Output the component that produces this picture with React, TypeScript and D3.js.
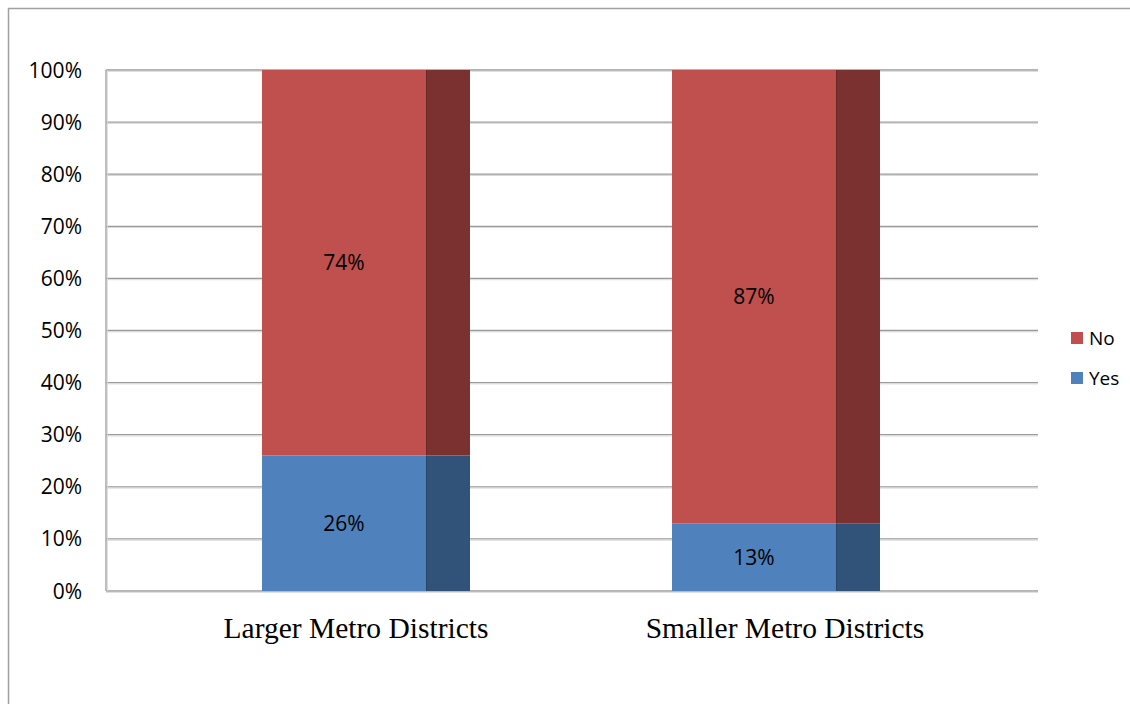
import React from "react";
import * as d3 from "d3";

const categories = ["Larger Metro Districts", "Smaller Metro Districts"];
const yesValues = [0.26, 0.13];
const noValues = [0.74, 0.87];
const yTicks = [0, 0.1, 0.2, 0.3, 0.4, 0.5, 0.6, 0.7, 0.8, 0.9, 1.0];
const seriesNames = ["No", "Yes"];

const W = 1130;
const H = 704;
const plotLeft = 106;
const plotRight = 1038;
const plotTop = 70;
const plotBottom = 591;

const colors = {
  No: { front: "#C0504D", side: "#7A3130" },
  Yes: { front: "#4F81BD", side: "#325379" },
};

export default function App() {
  const y = d3.scaleLinear().domain([0, 1]).range([plotBottom, plotTop]);
  const xBar = d3.scaleBand<string>().domain(categories).range([262, 1082]).padding(0);
  const xLabel = d3.scalePoint<string>().domain(categories).range([356, 785]);
  const frontW = 164;
  const sideW = 44;
  const fmt = d3.format(".0%");
  const sans = "'Open Sans', 'Noto Sans', sans-serif";

  const stacks = categories.map((c, i) => [
    { name: "Yes", y0: 0, y1: yesValues[i] },
    { name: "No", y0: yesValues[i], y1: yesValues[i] + noValues[i] },
  ]);

  return (
    <svg width={W} height={H} style={{ position: "absolute", left: 0, top: 0, background: "#fff" }}>
      <rect x={8.5} y={8.5} width={W + 10} height={H + 10} fill="#fff" stroke="#a0a0a0" strokeWidth={1.5} />
      {yTicks.map((t) => (
        <g key={t}>
          <line x1={plotLeft} x2={plotRight} y1={y(t)} y2={y(t)} stroke="#9a9a9a" strokeWidth={1.3} />
          <line x1={plotLeft} x2={plotRight} y1={y(t) + 1.3} y2={y(t) + 1.3} stroke="#d8d8d8" strokeWidth={1} />
          <text x={82} y={y(t)} dy="0.36em" textAnchor="end" fontFamily={sans} fontSize={21} fill="#000">
            {fmt(t)}
          </text>
        </g>
      ))}
      <line x1={plotLeft} x2={plotLeft} y1={plotTop} y2={plotBottom} stroke="#9a9a9a" strokeWidth={1.3} />
      <line x1={plotLeft + 1.3} x2={plotLeft + 1.3} y1={plotTop} y2={plotBottom} stroke="#d8d8d8" strokeWidth={1} />
      {categories.map((c, i) => {
        const x0 = xBar(c) as number;
        return (
          <g key={c}>
            {stacks[i].map((s) => {
              const col = colors[s.name as "No" | "Yes"];
              const top = y(s.y1);
              const h = y(s.y0) - y(s.y1);
              return (
                <g key={s.name}>
                  <rect x={x0} y={top} width={frontW} height={h} fill={col.front} />
                  <rect x={x0 + frontW} y={top} width={sideW} height={h} fill={col.side} />
                  <line x1={x0 + frontW + 0.5} x2={x0 + frontW + 0.5} y1={top} y2={top + h} stroke="#000" strokeOpacity={0.15} />
                  <text
                    x={x0 + frontW / 2}
                    y={(top + y(s.y0)) / 2}
                    dy="0.36em"
                    textAnchor="middle"
                    fontFamily={sans}
                    fontSize={21}
                    fill="#000"
                  >
                    {fmt(s.y1 - s.y0)}
                  </text>
                </g>
              );
            })}
            <text x={xLabel(c)} y={638} textAnchor="middle" fontFamily="'Liberation Serif', 'Times New Roman', serif" fontSize={29.5} fill="#000">
              {c}
            </text>
          </g>
        );
      })}
      {seriesNames.map((n, i) => {
        const col = colors[n as "No" | "Yes"];
        const ly = 338 + i * 40;
        return (
          <g key={n}>
            <rect x={1071} y={ly - 6} width={12} height={12} fill={col.front} />
            <text x={1089} y={ly} dy="0.36em" fontFamily={sans} fontSize={19} fill="#000">
              {n}
            </text>
          </g>
        );
      })}
    </svg>
  );
}
